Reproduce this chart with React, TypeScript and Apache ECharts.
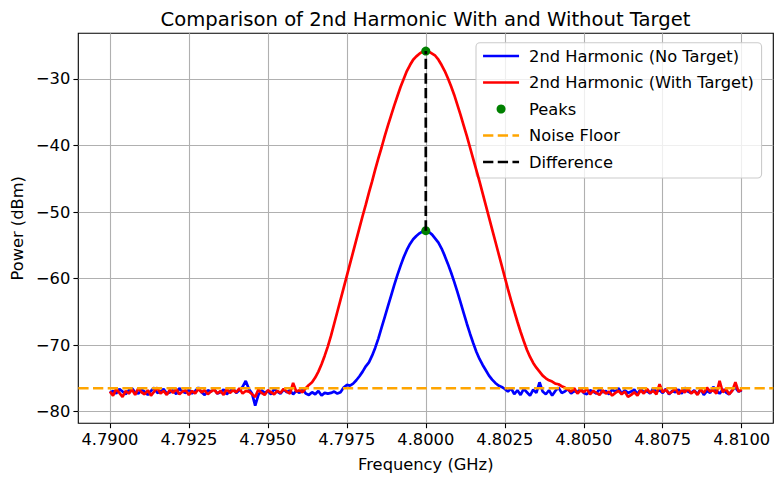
import React, { useEffect, useRef } from 'react';
import * as echarts from 'echarts';

// frequency grid of the sweep (GHz)
const FREQ_START = 4.79;
const FREQ_STEP = 0.0001;

// 2nd harmonic, no target (dBm), 4.7900 .. 4.8100
const blueLeft = [
  -77.2, -76.9, -77.3, -76.6, -77.0, -77.4, -76.8, -76.5, -77.1, -77.3,
  -76.7, -77.0, -77.5, -76.9, -76.4, -77.2, -77.0, -76.6, -77.3, -77.1,
  -76.8, -77.4, -76.5, -77.0, -77.2, -76.7, -77.3, -76.9, -76.4, -77.1,
  -77.5, -76.8, -77.0, -76.6, -77.3, -77.1, -76.7, -77.4, -76.9, -76.5,
  -77.2, -76.8, -76.3, -75.4, -76.6, -77.3, -79.1, -77.5, -76.8, -77.2,
  -76.9, -77.4, -76.6, -77.0, -77.3, -76.7, -77.1, -76.8, -77.4, -76.9,
  -77.2, -76.6, -77.3, -77.5, -77.1, -77.4, -76.9, -77.6, -77.2, -77.3,
  -77.2, -77.0, -77.3, -77.1,
];
const bluePeak = [
  -76.4, -76.0, -76.1, -75.8, -75.3, -74.7, -74.0, -73.2, -72.6, -71.6,
  -70.4, -69.0, -67.4, -65.8, -64.2, -62.6, -61.0, -59.5, -58.1, -56.8,
  -55.7, -54.8, -54.1, -53.6, -53.2, -52.9, -52.8, -53.0, -53.4, -54.0,
  -54.6, -55.5, -56.6, -57.8, -59.1, -60.5, -62.0, -63.6, -65.2, -66.8,
  -68.3, -69.7, -71.0, -72.1, -73.0, -73.8, -74.6, -75.2, -75.7, -76.1,
  -76.3, -76.6,
];
const blueRight = [
  -77.0, -76.5, -77.4, -76.8,
  -77.5, -76.6, -77.1, -77.6, -76.7, -77.2, -75.6, -77.0, -77.4, -76.8,
  -77.6, -76.9, -76.4, -77.2, -77.0, -76.6, -77.3, -76.9, -77.1, -76.5,
  -77.2, -77.4, -76.8, -77.0, -77.3, -76.6, -77.1, -76.9, -77.4, -76.7,
  -77.0, -76.5, -77.3, -76.8, -77.2, -77.0, -76.7, -77.4, -76.6, -77.1,
  -76.9, -77.3, -76.5, -77.0, -76.8, -77.2, -76.6, -77.4, -76.9, -77.1,
  -76.7, -77.3, -76.4, -77.0, -77.2, -76.8, -77.4, -76.6, -77.5, -76.9,
  -77.2, -76.3, -76.9, -77.3, -76.7, -77.1, -77.4, -76.8, -76.4, -77.0,
  -76.8,
];

// 2nd harmonic, with target (dBm), 4.7900 .. 4.8100
const redLeft = [
  -77.0, -77.6, -76.6, -77.2, -77.8, -76.9, -77.3, -76.7, -77.5, -76.5,
  -77.1, -77.4, -76.8, -77.6, -77.0, -76.4, -77.3, -76.9, -77.5, -76.7,
  -77.2, -76.6, -77.4, -77.0, -76.8, -77.5, -76.9, -77.3, -76.6, -77.1,
  -76.8, -77.4, -77.0, -76.7, -77.3, -76.9, -77.5, -76.6, -77.2, -76.8,
  -77.1, -76.5, -77.3, -76.9, -77.0, -77.4, -77.8, -76.7, -77.2, -77.5,
  -76.8, -77.1, -77.4, -76.9, -77.2, -76.6, -77.0, -77.3, -75.7, -77.0,
  -76.8, -77.1,
];
const redPeak = [
  -76.5, -76.0, -75.6, -74.9, -74.0, -72.9, -71.6, -70.2, -68.6, -66.8,
  -65.0, -63.2, -61.4, -59.6, -57.8, -56.0, -54.2, -52.4, -50.6, -48.9,
  -47.1, -45.4, -43.6, -41.9, -40.3, -38.6, -37.0, -35.5, -34.0, -32.6,
  -31.2, -30.0, -28.8, -27.9, -27.1, -26.6, -26.2, -25.9, -25.8,
  -25.9, -26.2, -26.5, -27.1, -27.9, -28.8, -29.9, -31.1, -32.4, -33.9,
  -35.4, -37.0, -38.6, -40.3, -42.0, -43.7, -45.4, -47.2, -49.0, -50.8,
  -52.6, -54.4, -56.2, -58.0, -59.8, -61.6, -63.3, -64.9, -66.5, -68.0,
  -69.4, -70.7, -71.8, -72.7, -73.4, -74.0, -74.6, -75.0, -75.3, -75.5,
  -75.8, -75.9, -76.2, -76.4,
];
const redRight = [
  -76.7, -77.0, -76.5, -77.3, -76.8,
  -77.1, -76.6, -77.4, -76.9, -77.2, -77.5, -76.8, -77.3, -77.0, -77.6,
  -77.2, -76.9, -77.4, -77.0, -77.8, -77.5, -77.1, -77.6, -76.8, -77.3,
  -76.6, -77.2, -76.9, -77.4, -75.9, -77.1, -76.7, -77.3, -77.0, -76.5,
  -77.4, -76.8, -77.1, -76.6, -77.3, -76.9, -77.5, -76.7, -77.2, -76.4,
  -77.0, -76.8, -77.3, -75.4, -77.1, -76.6, -77.4, -76.9, -75.6, -77.0,
  -76.7,
];

const peakFreqs = [4.8, 4.8];
const peakPowers = [-52.8, -25.8];
const noiseFloor = -76.5;

const xTicks = [4.79, 4.7925, 4.795, 4.7975, 4.8, 4.8025, 4.805, 4.8075, 4.81];
const yTicks = [-80, -70, -60, -50, -40, -30];
const X_MIN = 4.789;
const X_MAX = 4.811;
const Y_MIN = -81.77;
const Y_MAX = -23.13;

const FONT = 'DejaVu Sans';
const BLUE = '#0000ff';
const RED = '#ff0000';
const GREEN = '#008000';
const ORANGE = '#ffa500';
const DASH = [10.3, 4.4];

function toPairs(values: number[]): [number, number][] {
  return values.map((v, i) => [+(FREQ_START + i * FREQ_STEP).toFixed(4), v]);
}

// legend entry for a plain line handle (hide the symbol echarts adds to line icons)
function lineEntry(name: string, color: string, dashed: boolean) {
  return {
    name,
    itemStyle: { opacity: 0, color: 'rgba(0,0,0,0)', borderWidth: 0 },
    lineStyle: { color, width: 2.7, type: dashed ? DASH : 'solid', opacity: 1 },
  };
}

export default function App() {
  const ref = useRef<HTMLDivElement | null>(null);

  useEffect(() => {
    if (!ref.current) return;
    const chart = echarts.init(ref.current, undefined, { renderer: 'svg' });

    const blue = toPairs([...blueLeft, ...bluePeak, ...blueRight]);
    const red = toPairs([...redLeft, ...redPeak, ...redRight]);
    const peaks = peakFreqs.map((f, i) => [f, peakPowers[i]]);

    chart.setOption({
      animation: false,
      textStyle: { fontFamily: FONT },
      grid: {
        left: 78.3,
        top: 33.3,
        right: 9.7,
        bottom: 60.7,
        show: true,
        borderColor: '#000',
        borderWidth: 1.1,
        backgroundColor: 'transparent',
      },
      graphic: [
        {
          type: 'text',
          x: 425.5,
          y: 19,
          style: {
            text: 'Comparison of 2nd Harmonic With and Without Target',
            fontFamily: FONT,
            fontSize: 19.6,
            fill: '#000',
            align: 'center',
            verticalAlign: 'middle',
          },
        },
      ],
      legend: {
        orient: 'vertical',
        left: 476,
        top: 42.7,
        itemWidth: 36,
        itemHeight: 9,
        itemGap: 8.5,
        padding: [4.3, 7.7, 7, 5.7],
        backgroundColor: 'rgba(255,255,255,0.8)',
        borderColor: '#cccccc',
        borderWidth: 1.1,
        borderRadius: 4,
        selectedMode: false,
        textStyle: {
          fontFamily: FONT,
          fontSize: 16.3,
          color: '#000',
          lineHeight: 18,
          padding: [0, 0, 0, 5],
        },
        data: [
          lineEntry('2nd Harmonic (No Target)', BLUE, false),
          lineEntry('2nd Harmonic (With Target)', RED, false),
          { name: 'Peaks', icon: 'circle', itemStyle: { color: GREEN, opacity: 1 } },
          lineEntry('Noise Floor', ORANGE, true),
          lineEntry('Difference', '#000000', true),
        ],
      },
      xAxis: {
        type: 'value',
        min: X_MIN,
        max: X_MAX,
        name: 'Frequency (GHz)',
        nameLocation: 'middle',
        nameGap: 33,
        nameTextStyle: { fontFamily: FONT, fontSize: 16.3, color: '#000' },
        axisLine: { show: false },
        axisTick: {
          show: true,
          length: 4.9,
          customValues: xTicks,
          lineStyle: { color: '#000', width: 1.1 },
        },
        axisLabel: {
          customValues: xTicks,
          color: '#000',
          fontFamily: FONT,
          fontSize: 16.3,
          margin: 8,
          formatter: (v: number) => v.toFixed(4),
        },
        splitLine: { show: true, lineStyle: { color: '#b0b0b0', width: 1.1 } },
      },
      yAxis: {
        type: 'value',
        min: Y_MIN,
        max: Y_MAX,
        name: 'Power (dBm)',
        nameLocation: 'middle',
        nameGap: 51,
        nameRotate: 90,
        nameTextStyle: { fontFamily: FONT, fontSize: 16.3, color: '#000' },
        axisLine: { show: false },
        axisTick: {
          show: true,
          length: 4.9,
          customValues: yTicks,
          lineStyle: { color: '#000', width: 1.1 },
        },
        axisLabel: {
          customValues: yTicks,
          color: '#000',
          fontFamily: FONT,
          fontSize: 16.3,
          margin: 8,
          formatter: (v: number) => String(v).replace('-', '\u2212'),
        },
        splitLine: { show: true, lineStyle: { color: '#b0b0b0', width: 1.1 } },
      },
      series: [
        {
          name: '2nd Harmonic (No Target)',
          type: 'line',
          data: blue,
          symbol: 'none',
          z: 3,
          itemStyle: { color: BLUE },
          lineStyle: { color: BLUE, width: 2.7 },
        },
        {
          name: '2nd Harmonic (With Target)',
          type: 'line',
          data: red,
          symbol: 'none',
          z: 4,
          itemStyle: { color: RED },
          lineStyle: { color: RED, width: 2.7 },
        },
        {
          name: 'Peaks',
          type: 'scatter',
          data: peaks,
          symbol: 'circle',
          symbolSize: 9,
          z: 5,
          itemStyle: { color: GREEN, opacity: 1 },
        },
        {
          name: 'Noise Floor',
          type: 'line',
          data: [
            [X_MIN, noiseFloor],
            [X_MAX, noiseFloor],
          ],
          symbol: 'none',
          z: 6,
          itemStyle: { color: ORANGE },
          lineStyle: { color: ORANGE, width: 2.7, type: DASH },
        },
        {
          name: 'Difference',
          type: 'line',
          data: peaks,
          symbol: 'none',
          z: 7,
          itemStyle: { color: '#000000' },
          lineStyle: { color: '#000000', width: 2.7, type: DASH },
        },
      ],
    });

    return () => chart.dispose();
  }, []);

  return (
    <div
      ref={ref}
      style={{ position: 'fixed', left: 0, top: 0, width: 783, height: 484, background: '#fff' }}
    />
  );
}
